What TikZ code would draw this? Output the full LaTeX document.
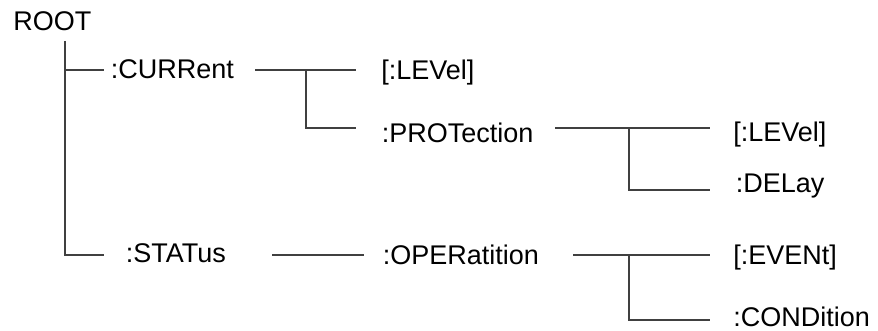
\documentclass[tikz,border=0pt]{standalone}
\usepackage{fontspec}
\setmainfont{Liberation Sans}
\begin{document}
\begin{tikzpicture}[x=0.5pt,y=-0.5pt,
        txt/.style={anchor=base west,inner sep=0pt,font=\fontsize{13.5}{16}\selectfont},
        wire/.style={line width=1pt,draw=black!75}]
        \useasboundingbox (0,0) rectangle (878,331);
        % command names
        \node[txt] (root) at (13,31) {ROOT};
        \node[txt] (cur) at (110.5,79) {:CURRent};
        \node[txt] (stat) at (125.5,263) {:STATus};
        \node[txt] (curlev) at (381,80) {[:LEVel]};
        \node[txt] (prot) at (381.5,143) {:PROTection};
        \node[txt] (oper) at (382.5,264) {:OPERatition};
        \node[txt] (protlev) at (733,142) {[:LEVel]};
        \node[txt] (delay) at (735.5,193) {:DELay};
        \node[txt] (event) at (733,264) {[:EVENt]};
        \node[txt] (cond) at (733,327) {:CONDition};
        % branch points
        \coordinate (roottop) at (65,41);
        \coordinate (curin) at (104,70);
        \coordinate (statin) at (104,255);
        \coordinate (curout) at (255,70);
        \coordinate (curj) at (306,70);
        \coordinate (curlevin) at (356,70);
        \coordinate (protin) at (356,128);
        \coordinate (statout) at (272,255);
        \coordinate (operin) at (364,255);
        \coordinate (protout) at (555,128);
        \coordinate (protj) at (629,128);
        \coordinate (protlevin) at (710,128);
        \coordinate (delayin) at (710,190);
        \coordinate (operout) at (573,255);
        \coordinate (operj) at (629,255);
        \coordinate (eventin) at (710,255);
        \coordinate (condin) at (710,320);
        % tree lines
        \draw[wire] (roottop) |- (statin);
        \draw[wire] (roottop |- curin) -- (curin);
        \draw[wire] (curout) -- (curlevin);
        \draw[wire] (curj) |- (protin);
        \draw[wire] (statout) -- (operin);
        \draw[wire] (protout) -- (protlevin);
        \draw[wire] (protj) |- (delayin);
        \draw[wire] (operout) -- (eventin);
        \draw[wire] (operj) |- (condin);
    \end{tikzpicture}
\end{document}
